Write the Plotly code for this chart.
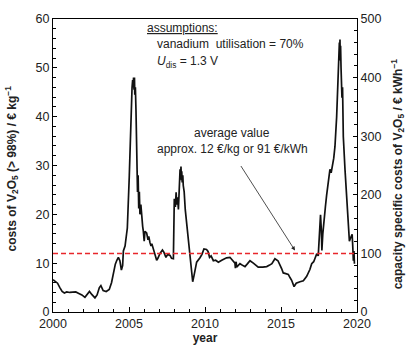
import plotly.graph_objects as go

# ---- data ----
years = [2000.00, 2000.15, 2000.30, 2000.45, 2000.60, 2000.75, 2000.90, 2001.10, 2001.30, 2001.50,
         2001.70, 2001.90, 2002.10, 2002.25, 2002.40, 2002.55, 2002.76, 2002.90, 2003.05, 2003.15,
         2003.30, 2003.50, 2003.70, 2003.85, 2003.97, 2004.10, 2004.20, 2004.30, 2004.40, 2004.50,
         2004.58, 2004.63, 2004.74, 2004.89, 2005.02, 2005.10, 2005.20, 2005.24, 2005.27, 2005.30,
         2005.33, 2005.36, 2005.38, 2005.40, 2005.42, 2005.46, 2005.50, 2005.53, 2005.56, 2005.60,
         2005.64, 2005.68, 2005.72, 2005.78, 2005.83, 2005.90, 2005.94, 2006.00, 2006.05, 2006.16,
         2006.25, 2006.30, 2006.38, 2006.45, 2006.50, 2006.60, 2006.70, 2006.82, 2006.90, 2007.04,
         2007.20, 2007.30, 2007.43, 2007.55, 2007.70, 2007.80, 2007.92, 2007.98, 2008.05, 2008.10,
         2008.14, 2008.20, 2008.25, 2008.32, 2008.36, 2008.39, 2008.42, 2008.45, 2008.47, 2008.50,
         2008.54, 2008.57, 2008.63, 2008.70, 2008.80, 2008.90, 2009.00, 2009.10, 2009.19, 2009.28,
         2009.34, 2009.45, 2009.67, 2009.80, 2009.93, 2010.10, 2010.20, 2010.30, 2010.40, 2010.55,
         2010.70, 2010.88, 2011.10, 2011.30, 2011.42, 2011.64, 2011.80, 2011.97, 2012.00, 2012.05,
         2012.08, 2012.30, 2012.50, 2012.63, 2012.80, 2012.96, 2013.18, 2013.35, 2013.50, 2013.80,
         2014.06, 2014.25, 2014.40, 2014.60, 2014.80, 2015.04, 2015.15, 2015.26, 2015.48, 2015.60,
         2015.70, 2015.86, 2016.00, 2016.25, 2016.47, 2016.69, 2016.80, 2016.90, 2017.02, 2017.15,
         2017.24, 2017.35, 2017.45, 2017.52, 2017.60, 2017.65, 2017.69, 2017.75, 2017.83, 2017.92,
         2018.00, 2018.10, 2018.22, 2018.30, 2018.38, 2018.47, 2018.55, 2018.66, 2018.77, 2018.82,
         2018.84, 2018.86, 2018.88, 2018.90, 2018.92, 2018.95, 2019.01, 2019.05, 2019.10, 2019.21,
         2019.32, 2019.43, 2019.50, 2019.58, 2019.68, 2019.72, 2019.76, 2019.80, 2019.83]
cost_eur_per_kg = [6.6, 6.3, 5.9, 5.0, 4.2, 3.9, 4.1, 4.0, 4.1, 4.1,
                   3.8, 3.5, 3.0, 3.6, 4.2, 3.6, 2.9, 3.5, 5.0, 5.4,
                   4.4, 4.2, 4.6, 6.0, 7.9, 9.8, 10.6, 11.2, 10.5, 8.6,
                   9.5, 12.5, 13.5, 17.2, 27.9, 37.9, 45.9, 47.5, 46.0, 48.0,
                   45.5, 48.0, 44.5, 47.5, 46.0, 41.2, 29.2, 32.0, 24.6, 28.0,
                   21.2, 24.6, 20.0, 22.0, 19.2, 17.5, 16.6, 14.5, 16.5, 16.2,
                   14.8, 15.5, 14.2, 13.5, 14.0, 12.9, 11.5, 10.6, 11.0, 12.0,
                   12.7, 12.2, 11.2, 11.8, 11.6, 11.0, 10.9, 23.2, 21.5, 24.5,
                   22.0, 23.5, 21.0, 27.0, 29.2, 27.5, 29.8, 27.0, 28.8, 26.5,
                   28.0, 25.9, 24.6, 21.0, 17.9, 15.2, 11.2, 8.0, 6.2, 7.5,
                   8.5, 10.2, 11.1, 11.8, 12.9, 12.8, 12.4, 11.2, 11.5, 10.5,
                   10.6, 10.2, 10.6, 10.9, 11.1, 11.2, 10.6, 10.0, 9.0, 10.3,
                   9.2, 9.9, 9.5, 9.3, 9.9, 10.5, 10.0, 9.5, 9.2, 9.2,
                   9.3, 9.6, 9.9, 10.9, 10.5, 8.9, 8.0, 7.9, 7.7, 7.0,
                   6.5, 5.2, 5.9, 6.2, 6.4, 7.3, 8.0, 8.7, 9.9, 10.3,
                   11.0, 11.9, 11.5, 15.9, 19.9, 17.0, 12.6, 16.0, 19.2, 21.5,
                   23.9, 26.0, 29.2, 28.5, 29.8, 31.5, 33.9, 39.9, 49.2, 52.0,
                   55.2, 52.5, 55.8, 51.5, 54.5, 50.0, 43.9, 46.0, 35.9, 29.2,
                   22.6, 16.5, 14.5, 15.2, 15.9, 13.5, 10.5, 12.5, 9.9]
average_cost = 12
x_ticks = [2000, 2005, 2010, 2015, 2020]
left_ticks = [0, 10, 20, 30, 40, 50, 60]
right_ticks = [0, 100, 200, 300, 400, 500]

FONT = "Liberation Sans, Arial, sans-serif"
TXT = "#222222"

fig = go.Figure()
fig.add_trace(go.Scatter(x=years, y=cost_eur_per_kg, mode="lines",
                         line=dict(color="#111111", width=1.7), showlegend=False))
# invisible trace to activate the right axis
fig.add_trace(go.Scatter(x=[2000], y=[0], yaxis="y2", mode="markers",
                         marker=dict(opacity=0), showlegend=False, hoverinfo="skip"))

fig.add_shape(type="line", xref="paper", yref="y", x0=0, x1=1, y0=average_cost, y1=average_cost,
              line=dict(color="#e8262b", width=1.5, dash="5px,3px"))

ann = dict(font=dict(family=FONT, size=12, color=TXT), showarrow=False, xref="x", yref="y")
fig.add_annotation(x=2006.05, y=58.2, text="<u>assumptions:</u>", xanchor="left", **ann)
fig.add_annotation(x=2006.7, y=54.8, text="vanadium  utilisation = 70%", xanchor="left", **ann)
fig.add_annotation(x=2006.7, y=51.2, text="<i>U</i><sub>dis</sub> = 1.3 V", xanchor="left", **ann)
fig.add_annotation(x=2011.8, y=36.6, text="average value", xanchor="center", **ann)
fig.add_annotation(x=2011.8, y=33.3, text="approx. 12 €/kg or 91 €/kWh", xanchor="center", **ann)
fig.add_annotation(x=2015.92, y=12.6, ax=2012.3, ay=30.2, axref="x", ayref="y", xref="x", yref="y",
                   text="", showarrow=True, arrowhead=2, arrowsize=1, arrowwidth=0.8,
                   arrowcolor=TXT, standoff=0)

# axis titles (placed as rotated annotations)
title_font = dict(family=FONT, size=12, color=TXT)
fig.add_annotation(xref="paper", yref="paper", x=-0.135, y=0.49, textangle=-90,
                   text="<b>costs of V<sub>2</sub>O<sub>5</sub> (&gt; 98%) / € kg<sup>−1</sup></b>",
                   showarrow=False, font=title_font, xanchor="center", yanchor="middle")
fig.add_annotation(xref="paper", yref="paper", x=1.135, y=0.47, textangle=-90,
                   text="<b>capacity specific costs of V<sub>2</sub>O<sub>5</sub> / € kWh<sup>−1</sup></b>",
                   showarrow=False, font=title_font, xanchor="center", yanchor="middle")

tickfont = dict(family=FONT, size=12.5, color=TXT)
fig.update_layout(
    width=406, height=354,
    margin=dict(l=53, r=49, t=17, b=38),
    paper_bgcolor="white", plot_bgcolor="white",
    xaxis=dict(range=[2000, 2020], tickvals=x_ticks, ticks="inside", ticklen=5, tickcolor="black",
               minor=dict(dtick=1, ticks="inside", ticklen=3, tickcolor="black"),
               showline=True, linecolor="black", linewidth=1, mirror=True,
               showgrid=False, zeroline=False, tickfont=tickfont,
               title=dict(text="<b>year</b>", font=dict(family=FONT, size=12, color=TXT), standoff=3)),
    yaxis=dict(range=[0, 60], tickvals=left_ticks, ticks="inside", ticklen=4, tickcolor="black",
               minor=dict(dtick=2, ticks="inside", ticklen=3, tickcolor="black"),
               showline=True, linecolor="black", linewidth=1,
               showgrid=False, zeroline=False, tickfont=tickfont),
    yaxis2=dict(range=[0, 500], tickvals=right_ticks, overlaying="y", side="right",
                ticks="inside", ticklen=4, tickcolor="black",
                minor=dict(dtick=20, ticks="inside", ticklen=3, tickcolor="black"),
                showline=True, linecolor="black", linewidth=1,
                showgrid=False, zeroline=False, tickfont=tickfont),
)
fig.write_html("out.html", config={"displayModeBar": False},
               post_script="document.body.style.margin='0';document.body.style.overflow='hidden';")
